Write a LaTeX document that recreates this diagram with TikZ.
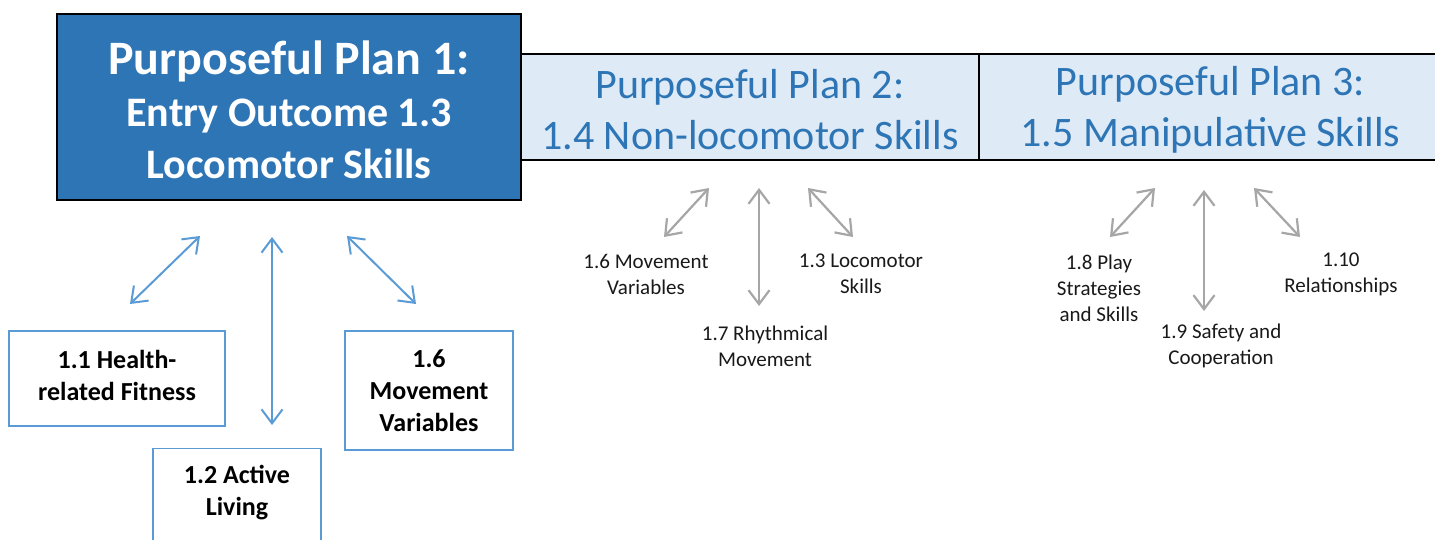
\documentclass[tikz,border=0pt]{standalone}
\usepackage{fontspec}
\setmainfont{Carlito}
\usetikzlibrary{arrows.meta}
\definecolor{planblue}{HTML}{2E75B6}
\definecolor{bandfill}{HTML}{DEEBF7}
\definecolor{linkblue}{HTML}{5B9BD5}
\definecolor{linkgray}{HTML}{A6A6A6}
\begin{document}
\begin{tikzpicture}[x=1pt,y=-1pt,
  barb/.tip={Straight Barb[length=14pt,width=21pt]},
  bluelink/.style={draw=linkblue, line width=2pt, barb-barb},
  graylink/.style={draw=linkgray, line width=2.2pt, barb-barb},
  bandcell/.style={draw=black, line width=2pt, fill=bandfill, inner sep=0pt,
    minimum height=106pt, text=planblue, align=center,
    font=\fontsize{42}{51}\selectfont},
  topicbox/.style={draw=linkblue, line width=1.4pt, fill=white, inner sep=0pt,
    align=center, font=\bfseries\fontsize{26}{32}\selectfont},
  topictext/.style={inner sep=0pt, align=center, font=\bfseries\fontsize{26}{32}\selectfont},
  sublabel/.style={inner sep=0pt, align=center, text=black!90,
    font=\fontsize{21}{26}\selectfont}]
\clip (0,0) rectangle (1435,540);
\fill[white] (0,0) rectangle (1435,540);

% band with plans 2 and 3
\node (plan2) [bandcell, minimum width=458pt] at (750,107) {};
\node (plan3) [bandcell, minimum width=461pt] at (1209.5,107) {};
\node (plan2text) [inner sep=0pt, text=planblue, align=center,
  font=\fontsize{42}{51}\selectfont] at (750,110) {Purposeful Plan 2:\\1.4 Non-locomotor Skills};
\node (plan3text) [inner sep=0pt, text=planblue, align=center,
  font=\fontsize{42}{51}\selectfont] at (1210.5,110) {Purposeful Plan 3:\\1.5 Manipulative Skills};

% plan 1
\node (plan1) [draw=black, line width=2.5pt, fill=planblue, minimum width=464pt,
  minimum height=186pt, inner sep=0pt] at (289,107) {};
\node (plan1text) [text=white, inner sep=0pt, align=center,
  font=\bfseries\fontsize{42}{52}\selectfont] at (289,109.5)
  {{\fontsize{48}{56}\selectfont Purposeful Plan 1:}\\Entry Outcome 1.3\\Locomotor Skills};

% plan 1 topics
\node (t11frame) [topicbox, minimum width=216pt, minimum height=95pt] at (117,378.5) {};
\node (t11) [topictext] at (117,375) {1.1 Health-\\related Fitness};
\node (t16) [topicbox, minimum width=168pt, minimum height=119pt] at (429,390.5)
  {1.6\\Movement\\Variables};
\node (t12frame) [topicbox, minimum width=168pt, minimum height=112pt, anchor=north] at (237,448) {};
\node (t12) [topictext] at (237,493) {1.2 Active\\Living};

\coordinate (a1s) at (200,236); \coordinate (a1e) at (130,304);
\coordinate (a2s) at (272,237); \coordinate (a2e) at (272,425);
\coordinate (a3s) at (347,236); \coordinate (a3e) at (416,304);
\draw[bluelink] (a1s) -- (a1e);
\draw[bluelink] (a2s) -- (a2e);
\draw[bluelink] (a3s) -- (a3e);

% plan 2 topics
\node (p2a) [sublabel] at (646,274) {1.6 Movement\\Variables};
\node (p2b) [sublabel] at (861,274) {1.3 Locomotor\\Skills};
\node (p2c) [sublabel] at (765,346) {1.7 Rhythmical\\Movement};
\coordinate (b1s) at (709,188); \coordinate (b1e) at (664,237);
\coordinate (b2s) at (759,188); \coordinate (b2e) at (759,306);
\coordinate (b3s) at (808,188); \coordinate (b3e) at (853,237);
\draw[graylink] (b1s) -- (b1e);
\draw[graylink] (b2s) -- (b2e);
\draw[graylink] (b3s) -- (b3e);

% plan 3 topics
\node (p3a) [sublabel] at (1099,288) {1.8 Play\\Strategies\\and Skills};
\node (p3b) [sublabel] at (1221,346) {1.9 Safety and\\Cooperation};
\node (p3c) [sublabel] at (1341,274) {1.10\\Relationships};
\coordinate (c1s) at (1155,188); \coordinate (c1e) at (1110,237);
\coordinate (c2s) at (1204,190); \coordinate (c2e) at (1204,311);
\coordinate (c3s) at (1254,188); \coordinate (c3e) at (1300,237);
\draw[graylink] (c1s) -- (c1e);
\draw[graylink] (c2s) -- (c2e);
\draw[graylink] (c3s) -- (c3e);
\end{tikzpicture}
\end{document}
